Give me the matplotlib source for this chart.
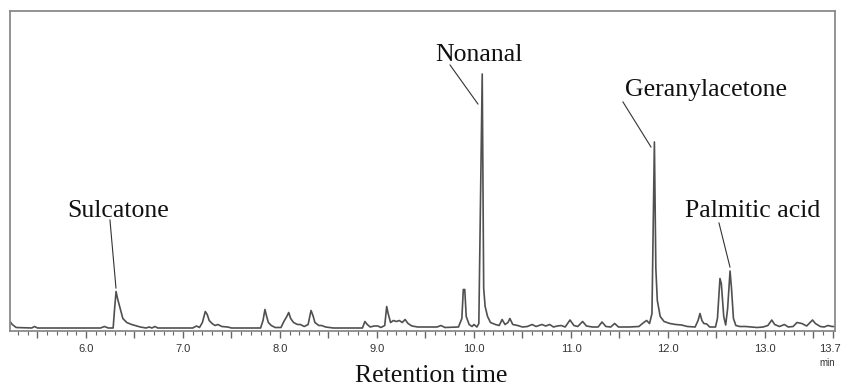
import matplotlib
matplotlib.use("Agg")
import matplotlib.pyplot as plt
import matplotlib.transforms as mtransforms
from matplotlib.ticker import FixedLocator, FixedFormatter

# Retention time (min) and detector signal (arbitrary units)
rt = [5.217, 5.24, 5.28, 5.44, 5.47, 5.50, 6.15, 6.19, 6.23, 6.28,
      6.295, 6.31, 6.325, 6.35, 6.38, 6.42, 6.47, 6.56, 6.62, 6.65,
      6.68, 6.71, 6.74, 7.10, 7.14, 7.17, 7.20, 7.23, 7.25, 7.27,
      7.30, 7.33, 7.36, 7.40, 7.46, 7.50, 7.80, 7.825, 7.845, 7.86,
      7.88, 7.91, 7.95, 8.01, 8.04, 8.07, 8.09, 8.11, 8.14, 8.18,
      8.21, 8.25, 8.29, 8.32, 8.34, 8.36, 8.40, 8.43, 8.47, 8.55,
      8.85, 8.875, 8.90, 8.93, 8.97, 9.01, 9.04, 9.08, 9.10, 9.115,
      9.14, 9.17, 9.20, 9.23, 9.26, 9.29, 9.32, 9.36, 9.42, 9.55,
      9.62, 9.66, 9.70, 9.84, 9.875, 9.89, 9.905, 9.92, 9.95, 9.98,
      10.00, 10.03, 10.05, 10.085, 10.10, 10.115, 10.14, 10.17, 10.22, 10.26,
      10.29, 10.32, 10.35, 10.37, 10.40, 10.45, 10.50, 10.55, 10.60, 10.64,
      10.70, 10.74, 10.78, 10.82, 10.86, 10.90, 10.94, 10.99, 11.03, 11.07,
      11.12, 11.16, 11.22, 11.28, 11.32, 11.36, 11.41, 11.45, 11.49, 11.60,
      11.70, 11.75, 11.78, 11.81, 11.835, 11.86, 11.875, 11.89, 11.92, 11.96,
      12.02, 12.08, 12.14, 12.20, 12.28, 12.31, 12.33, 12.35, 12.37, 12.40,
      12.43, 12.49, 12.51, 12.536, 12.55, 12.575, 12.595, 12.615, 12.64, 12.655,
      12.675, 12.70, 12.74, 12.80, 12.86, 12.92, 12.98, 13.03, 13.07, 13.10,
      13.15, 13.20, 13.24, 13.29, 13.33, 13.38, 13.43, 13.49, 13.52, 13.57,
      13.61, 13.65, 13.69, 13.722]
signal = [7, 4, 1, 0.5, 2, 0.5, 0.5, 2, 0.5, 0.5,
          20, 37, 30, 21, 10, 6, 4, 1.5, 0.5, 1.5,
          0.5, 2, 0.5, 0.5, 2.5, 1, 6, 17, 14, 8,
          5, 3, 4, 2, 1.5, 0.5, 0.5, 8, 19, 13,
          6, 3, 1, 1, 7, 12, 16, 10, 6, 4,
          4, 2, 4, 18, 13, 6, 3, 3, 1.5, 0.5,
          0.5, 7, 4, 1.5, 2.5, 2.5, 1, 3, 22, 15,
          6, 8, 7, 8, 6, 9, 5, 2.5, 1.5, 1.5,
          1.5, 3, 1, 1.5, 10, 39, 39, 12, 4, 2,
          4, 1.5, 5, 254.5, 40, 22, 12, 6, 4, 3,
          9, 4, 6, 10, 4, 3, 1.5, 2, 4, 2,
          4, 2.5, 4, 1.5, 2.5, 3, 1.5, 8.5, 3, 2,
          7, 2.5, 1.5, 1.5, 6.5, 2, 1.5, 5, 1.5, 1.5,
          2, 6, 8, 5, 15, 186.5, 60, 28, 12, 7,
          5, 4, 3.5, 2, 1.5, 8, 15, 8, 5, 4.5,
          1.5, 1.5, 10, 50, 45, 12, 3.5, 20, 57.5, 40,
          10, 3, 2, 2, 1.5, 1, 1.5, 3, 8.5, 4,
          2, 4, 1.5, 2, 6, 5, 2.5, 8.5, 5, 2,
          1.5, 3, 2, 2]

# Labelled compounds
compounds = ["Sulcatone", "Nonanal", "Geranylacetone", "Palmitic acid"]
label_xy = [(5.804, 111.8), (9.598, 267.5), (11.557, 232.5), (12.175, 111.5)]
leader_from = [(6.247, 108.5), (9.753, 263.5), (11.536, 226.5), (12.526, 105.5)]
leader_to = [(6.309, 40.5), (10.041, 224.5), (11.825, 181.5), (12.639, 61.5)]

major_ticks = [5.5, 6.0, 6.5, 7.0, 7.5, 8.0, 8.5, 9.0, 9.5, 10.0, 10.5,
               11.0, 11.5, 12.0, 12.5, 13.0, 13.5, 13.7]
major_labels = ["", "6.0", "", "7.0", "", "8.0", "", "9.0", "", "10.0", "",
                "11.0", "", "12.0", "", "13.0", "", "13.7"]
minor_ticks = [round(5.3 + 0.1 * i, 1) for i in range(85)]

W, H = 842, 388
fig = plt.figure(figsize=(W / 100, H / 100), dpi=100)
ax = fig.add_axes([10 / W, 1 - 331 / H, 825 / W, 320 / H])

ax.plot(rt, signal, color="#505050", lw=1.2, solid_joinstyle="round")
ax.set_xlim(5.2165, 13.722)
ax.set_ylim(-2.5, 317.5)

serif = ["Liberation Serif", "DejaVu Serif"]
for name, (tx, ty), (x0, y0), (x1, y1) in zip(compounds, label_xy, leader_from, leader_to):
    ax.text(tx, ty, name, family=serif, fontsize=18.5, ha="left", va="baseline",
            color="#111111")
    ax.plot([x0, x1], [y0, y1], color="#333333", lw=0.8)

for s in ax.spines.values():
    s.set_color("#8a8a8a")
    s.set_linewidth(1.3)

ax.set_yticks([])
ax.xaxis.set_major_locator(FixedLocator(major_ticks))
ax.xaxis.set_major_formatter(FixedFormatter(major_labels))
ax.xaxis.set_minor_locator(FixedLocator(minor_ticks))
ax.tick_params(axis="x", which="major", length=5, width=1.0, color="#666666",
               labelsize=8, labelcolor="#333333", pad=4, direction="out")
ax.tick_params(axis="x", which="minor", length=3, width=0.8, color="#666666",
               direction="out")
labels = ax.get_xticklabels()
for lab in labels:
    lab.set_family(["Liberation Sans", "DejaVu Sans"])
shift = mtransforms.ScaledTranslation(-3 / 100, 0, fig.dpi_scale_trans)
labels[-1].set_transform(labels[-1].get_transform() + shift)

fig.text(827 / W, 1 - 363 / H, "min", fontsize=7, color="#333333",
         family=["Liberation Sans", "DejaVu Sans"], ha="center", va="center")
fig.text(355 / W, 1 - 382 / H, "Retention time", family=serif, fontsize=18.5,
         ha="left", va="baseline", color="#111111")

fig.savefig("out.png", dpi=100)
